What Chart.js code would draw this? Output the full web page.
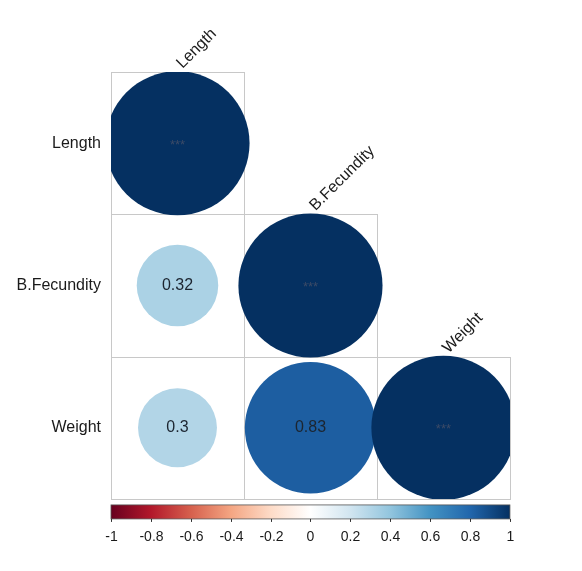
<!DOCTYPE html>
<html>
<head>
<meta charset="utf-8">
<script src="https://cdn.jsdelivr.net/npm/chart.js@4/dist/chart.umd.min.js"></script>
<style>
  body { margin: 0; background: #fff; }
  #wrap { width: 582px; height: 571px; }
</style>
</head>
<body>
<div id="wrap"><canvas id="corrPlot"></canvas></div>
<script>
// variables and lower-triangle correlations (row by row)
const variables = ["Length", "B.Fecundity", "Weight"];
const rowLength = [1];
const rowFecundity = [0.32, 1];
const rowWeight = [0.3, 0.83, 1];
const diagLabel = "***";

// colour bar
const barTicks = [-1, -0.8, -0.6, -0.4, -0.2, 0, 0.2, 0.4, 0.6, 0.8, 1];
const rdbu = ["#67001F", "#B2182B", "#D6604D", "#F4A582", "#FDDBC7", "#FFFFFF",
              "#D1E5F0", "#92C5DE", "#4393C3", "#2166AC", "#053061"];

function hex2rgb(h) {
  return [parseInt(h.slice(1, 3), 16), parseInt(h.slice(3, 5), 16), parseInt(h.slice(5, 7), 16)];
}

// same ramp as corrplot: interpolate the palette over -1..1
function corrColor(v) {
  const pos = (v + 1) / 2 * (rdbu.length - 1);
  const i = Math.min(Math.floor(pos), rdbu.length - 2);
  const t = pos - i;
  const a = hex2rgb(rdbu[i]), b = hex2rgb(rdbu[i + 1]);
  const c = a.map((n, k) => Math.round(n + (b[k] - n) * t));
  return "rgb(" + c.join(",") + ")";
}

const rows = [rowLength, rowFecundity, rowWeight];
const cells = [];
rows.forEach((row, r) => {
  row.forEach((v, c) => {
    cells.push({ x: c + 1, y: r + 1, v: v });
  });
});

const gridPlugin = {
  id: "gridCells",
  beforeDatasetsDraw(chart) {
    const ctx = chart.ctx, x = chart.scales.x, y = chart.scales.y;
    ctx.save();
    ctx.strokeStyle = "#c8c8c8";
    ctx.lineWidth = 1;
    rows.forEach((row, r) => {
      row.forEach((v, c) => {
        const x0 = Math.round(x.getPixelForValue(c + 0.5)) + 0.5;
        const x1 = Math.round(x.getPixelForValue(c + 1.5)) + 0.5;
        const y0 = Math.round(y.getPixelForValue(r + 0.5)) + 0.5;
        const y1 = Math.round(y.getPixelForValue(r + 1.5)) + 0.5;
        ctx.strokeRect(x0, y0, x1 - x0, y1 - y0);
      });
    });
    ctx.restore();
  },
  afterDatasetsDraw(chart) {
    const ctx = chart.ctx, x = chart.scales.x, y = chart.scales.y;
    ctx.save();
    ctx.textAlign = "center";
    ctx.textBaseline = "middle";
    cells.forEach(d => {
      const px = x.getPixelForValue(d.x), py = y.getPixelForValue(d.y);
      if (d.x === d.y) {
        ctx.font = "13px 'Liberation Sans', Arial, sans-serif";
        ctx.fillStyle = "#3c4a66";
        ctx.fillText(diagLabel, px, py + 2);
      } else {
        ctx.font = "16px 'Liberation Sans', Arial, sans-serif";
        ctx.fillStyle = "#1c2530";
        ctx.fillText(String(d.v), px, py);
      }
    });

    // rotated labels above the diagonal
    ctx.font = "16px 'Liberation Sans', Arial, sans-serif";
    ctx.fillStyle = "#1a1a1a";
    ctx.textAlign = "left";
    ctx.textBaseline = "alphabetic";
    variables.forEach((name, i) => {
      const px = x.getPixelForValue(i + 1) + 5;
      const py = y.getPixelForValue(i + 0.5) - 3;
      ctx.save();
      ctx.translate(px, py);
      ctx.rotate(-Math.PI / 4);
      ctx.fillText(name, 0, 0);
      ctx.restore();
    });

    // colour legend
    const cb = chart.scales.cb;
    const left = cb.getPixelForValue(-1), right = cb.getPixelForValue(1);
    const top = chart.chartArea.bottom + 6, bottom = chart.chartArea.bottom + 20;
    const grad = ctx.createLinearGradient(left, 0, right, 0);
    rdbu.forEach((col, k) => grad.addColorStop(k / (rdbu.length - 1), col));
    ctx.fillStyle = grad;
    ctx.fillRect(left, top, right - left, bottom - top);
    ctx.strokeStyle = "#555";
    ctx.lineWidth = 0.8;
    ctx.strokeRect(left, top, right - left, bottom - top);
    ctx.strokeStyle = "#333";
    ctx.lineWidth = 1;
    ctx.font = "14px 'Liberation Sans', Arial, sans-serif";
    ctx.fillStyle = "#1a1a1a";
    ctx.textAlign = "center";
    ctx.textBaseline = "middle";
    barTicks.forEach(t => {
      const px = Math.round(cb.getPixelForValue(t)) + 0.5;
      ctx.beginPath();
      ctx.moveTo(px, bottom);
      ctx.lineTo(px, bottom + 3);
      ctx.stroke();
      ctx.fillText(String(t), px, bottom + 18);
    });
    ctx.restore();
  }
};

const corrChart = new Chart(document.getElementById("corrPlot"), {
  type: "bubble",
  data: {
    datasets: [{
      data: cells,
      xAxisID: "x",
      yAxisID: "y",
      backgroundColor: ctx => ctx.raw ? corrColor(ctx.raw.v) : "#053061",
      borderWidth: 0,
      hoverRadius: 0
    }]
  },
  options: {
    responsive: true,
    maintainAspectRatio: false,
    animation: false,
    events: [],
    layout: { padding: { top: 58, bottom: 44, right: 2, left: 0 } },
    plugins: { legend: { display: false }, tooltip: { enabled: false } },
    scales: {
      x: { type: "linear", min: 0.5, max: 3.5, display: false },
      cb: { type: "linear", axis: "x", min: -1, max: 1, display: false },
      y: {
        type: "linear",
        min: 0.5,
        max: 3.5,
        reverse: true,
        grid: { display: false },
        border: { display: false },
        afterBuildTicks: scale => { scale.ticks = variables.map((v, i) => ({ value: i + 1 })); },
        afterFit: scale => { scale.width = 111; },
        ticks: {
          padding: 2,
          color: "#1a1a1a",
          font: { family: "'Liberation Sans', Arial, sans-serif", size: 16 },
          callback: v => variables[v - 1]
        }
      }
    }
  },
  plugins: [gridPlugin]
});

// circle area follows |r| (corrplot "circle" method): size from the laid-out x scale
const xs = corrChart.scales.x;
const cellPx = Math.abs(xs.getPixelForValue(2) - xs.getPixelForValue(1));
cells.forEach(d => { d.r = Math.sqrt(Math.abs(d.v)) * 0.462 * cellPx; });
corrChart.update("none");
</script>
</body>
</html>
